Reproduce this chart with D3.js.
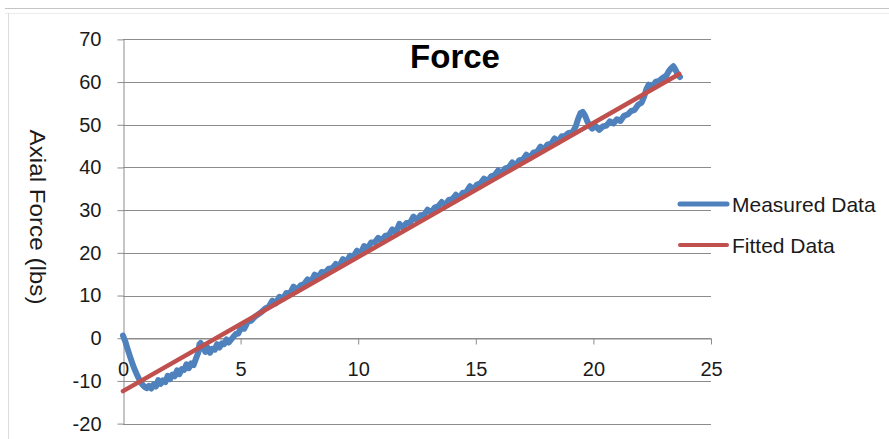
<!DOCTYPE html>
<html>
<head>
<meta charset="utf-8">
<script src="https://cdn.jsdelivr.net/npm/d3@7"></script>
<style>
  html, body { margin: 0; padding: 0; background: #fff; }
  svg { display: block; }
  text { font-family: "Liberation Sans", Arial, sans-serif; }
</style>
</head>
<body>
<svg id="chart" width="889" height="439"></svg>
<script>
// Measured axial force (lbs) against the x reading
const measuredX = [
  0.00, 0.10, 0.20, 0.30, 0.40, 0.50, 0.60, 0.70, 0.80, 0.90,
  1.00, 1.10, 1.20, 1.30, 1.40, 1.50, 1.60, 1.70, 1.80, 1.90,
  2.00, 2.10, 2.20, 2.30, 2.40, 2.50, 2.60, 2.70, 2.80, 2.90,
  3.00, 3.10, 3.20, 3.25, 3.30, 3.40, 3.50, 3.60, 3.70, 3.80,
  3.90, 4.00, 4.10, 4.20, 4.30, 4.40, 4.50, 4.60, 4.70, 4.80,
  4.90, 5.00, 5.15, 5.30, 5.45, 5.60, 5.75, 5.90, 6.05, 6.20,
  6.35, 6.50, 6.65, 6.80, 6.95, 7.10, 7.25, 7.40, 7.55, 7.70,
  7.85, 8.00, 8.15, 8.30, 8.45, 8.60, 8.75, 8.90, 9.05, 9.20,
  9.35, 9.50, 9.65, 9.80, 9.95, 10.10, 10.25, 10.40, 10.55, 10.70,
  10.85, 11.00, 11.15, 11.30, 11.45, 11.60, 11.75, 11.90, 12.05, 12.20,
  12.35, 12.50, 12.65, 12.80, 12.95, 13.10, 13.25, 13.40, 13.55, 13.70,
  13.85, 14.00, 14.15, 14.30, 14.45, 14.60, 14.75, 14.90, 15.05, 15.20,
  15.35, 15.50, 15.65, 15.80, 15.95, 16.10, 16.25, 16.40, 16.55, 16.70,
  16.85, 17.00, 17.15, 17.30, 17.45, 17.60, 17.75, 17.90, 18.05, 18.20,
  18.35, 18.50, 18.65, 18.80, 18.95, 19.10, 19.25, 19.35, 19.45, 19.55,
  19.65, 19.75, 19.85, 19.95, 20.10, 20.25, 20.40, 20.55, 20.70, 20.85,
  21.00, 21.15, 21.30, 21.45, 21.60, 21.75, 21.90, 22.05, 22.15, 22.25,
  22.35, 22.50, 22.65, 22.80, 22.95, 23.10, 23.20, 23.30, 23.40, 23.50,
  23.60, 23.68
];
const measuredY = [
  0.6, -0.8, -2.6, -4.3, -5.9, -7.4, -8.6, -9.8, -10.7, -11.3,
  -11.7, -11.2, -11.8, -10.8, -11.3, -9.8, -10.7, -9.9, -10.3, -8.8,
  -9.6, -8.5, -8.9, -7.5, -8.4, -7.2, -7.4, -6.1, -7.0, -5.9,
  -6.3, -4.8, -3.4, -1.4, -1.1, -2.2, -3.2, -2.2, -3.4, -2.5,
  -2.7, -1.4, -2.2, -1.2, -1.4, -0.3, -1.0, -0.3, 0.4, 1.0,
  1.1, 2.3, 2.2, 3.8, 4.1, 5.0, 5.6, 6.2, 7.0, 7.4,
  8.8, 8.2, 9.7, 9.3, 10.6, 10.5, 12.1, 11.3, 12.4, 12.7,
  13.8, 13.2, 14.9, 14.3, 15.5, 15.4, 16.3, 16.4, 17.4, 16.9,
  18.5, 17.9, 19.3, 19.2, 20.5, 19.8, 21.6, 21.0, 22.4, 22.4,
  23.5, 22.8, 24.0, 24.1, 25.5, 24.7, 26.8, 25.9, 27.0, 27.0,
  28.5, 27.7, 28.8, 28.9, 30.1, 29.4, 30.6, 30.9, 31.9, 31.1,
  32.4, 32.6, 33.6, 32.9, 34.1, 34.3, 35.6, 34.8, 36.0, 36.3,
  37.4, 36.7, 37.9, 38.2, 39.3, 38.6, 39.8, 40.0, 41.2, 40.4,
  41.7, 41.8, 43.0, 42.2, 43.5, 43.6, 44.9, 44.1, 45.4, 45.5,
  46.8, 46.0, 47.3, 47.4, 48.1, 48.2, 49.6, 51.4, 52.7, 53.0,
  52.1, 50.7, 49.7, 49.1, 49.7, 48.8, 49.6, 49.8, 50.8, 50.3,
  51.3, 50.9, 52.1, 52.4, 53.2, 53.5, 54.7, 55.2, 56.5, 58.3,
  59.4, 58.9, 60.1, 60.3, 61.0, 61.5, 62.5, 63.2, 63.7, 62.8,
  61.6, 61.2
];

// Linear fit through the measurements
const fittedX = [0, 23.65];
const fittedY = [-12.4, 61.9];

const xTicks = [0, 5, 10, 15, 20, 25];
const yTicks = [-20, -10, 0, 10, 20, 30, 40, 50, 60, 70];

const titleText = "Force";
const yLabel = "Axial Force (lbs)";
const seriesNames = ["Measured Data", "Fitted Data"];
const seriesColors = ["#4F81BD", "#C0504D"];

const svg = d3.select("#chart");

// Frame of the chart object
svg.append("line").attr("x1", 5).attr("x2", 889).attr("y1", 8.5).attr("y2", 8.5)
  .attr("stroke", "#c4c4c4").attr("stroke-width", 1);
svg.append("line").attr("x1", 5).attr("x2", 889).attr("y1", 13.5).attr("y2", 13.5)
  .attr("stroke", "#ececec").attr("stroke-width", 1);
svg.append("line").attr("x1", 8.5).attr("x2", 8.5).attr("y1", 13).attr("y2", 439)
  .attr("stroke", "#dcdcdc").attr("stroke-width", 1);

const x = d3.scaleLinear().domain([0, 25]).range([123, 711]);
const y = d3.scaleLinear().domain([-20, 70]).range([423.6, 39.4]);

// Tick labels use a plain hyphen for negatives
const fmt = d => String(d);

// Horizontal gridlines
svg.append("g")
  .selectAll("line")
  .data(yTicks)
  .join("line")
  .attr("x1", x(0)).attr("x2", x(25))
  .attr("y1", d => Math.round(y(d)) + 0.5).attr("y2", d => Math.round(y(d)) + 0.5)
  .attr("stroke", "#8c8c8c").attr("stroke-width", 1);

// Y axis
const yAxis = svg.append("g")
  .attr("transform", `translate(${Math.round(x(0)) + 0.5},0)`)
  .call(d3.axisLeft(y).tickValues(yTicks).tickSize(6).tickSizeOuter(0).tickPadding(16)
    .tickFormat(fmt));
yAxis.select(".domain").attr("stroke", "#8c8c8c");
yAxis.selectAll(".tick line").attr("stroke", "#8c8c8c");
yAxis.selectAll(".tick text")
  .attr("font-size", 20).attr("fill", "#1a1a1a")
  .attr("font-family", "'Liberation Sans', Arial, sans-serif");

// X axis along zero
const xAxis = svg.append("g")
  .attr("transform", `translate(0,${Math.round(y(0)) + 0.5})`)
  .call(d3.axisBottom(x).tickValues(xTicks).tickSize(6).tickSizeOuter(0).tickPadding(17)
    .tickFormat(fmt));
xAxis.select(".domain").attr("stroke", "#8c8c8c");
xAxis.selectAll(".tick line").attr("stroke", "#8c8c8c");
xAxis.selectAll(".tick text")
  .attr("font-size", 20).attr("fill", "#1a1a1a")
  .attr("font-family", "'Liberation Sans', Arial, sans-serif");

// Series
const line = d3.line().x(d => x(d[0])).y(d => y(d[1]));

const measured = measuredX.map((v, i) => [v, measuredY[i]]);
const fitted = fittedX.map((v, i) => [v, fittedY[i]]);

svg.append("path")
  .datum(measured)
  .attr("d", line)
  .attr("fill", "none")
  .attr("stroke", seriesColors[0])
  .attr("stroke-width", 6)
  .attr("stroke-linejoin", "round")
  .attr("stroke-linecap", "round");

svg.append("path")
  .datum(fitted)
  .attr("d", line)
  .attr("fill", "none")
  .attr("stroke", seriesColors[1])
  .attr("stroke-width", 4.5)
  .attr("stroke-linecap", "round");

// Title
svg.append("text")
  .attr("x", 455).attr("y", 68)
  .attr("text-anchor", "middle")
  .attr("font-size", 33).attr("font-weight", "bold").attr("fill", "#000")
  .text(titleText);

// Y axis title
svg.append("text")
  .attr("transform", "translate(30,217) rotate(90)")
  .attr("text-anchor", "middle")
  .attr("font-size", 22).attr("fill", "#1a1a1a")
  .attr("textLength", 175).attr("lengthAdjust", "spacingAndGlyphs")
  .text(yLabel);

// Legend
const legend = svg.append("g");
const legendY = [204, 245];
seriesNames.forEach((name, i) => {
  legend.append("line")
    .attr("x1", 680).attr("x2", 727)
    .attr("y1", legendY[i]).attr("y2", legendY[i])
    .attr("stroke", seriesColors[i]).attr("stroke-width", i === 0 ? 5 : 4)
    .attr("stroke-linecap", "round");
  legend.append("text")
    .attr("x", 732).attr("y", legendY[i] + 7.5)
    .attr("font-size", 21).attr("fill", "#1a1a1a")
    .text(name);
});
</script>
</body>
</html>
